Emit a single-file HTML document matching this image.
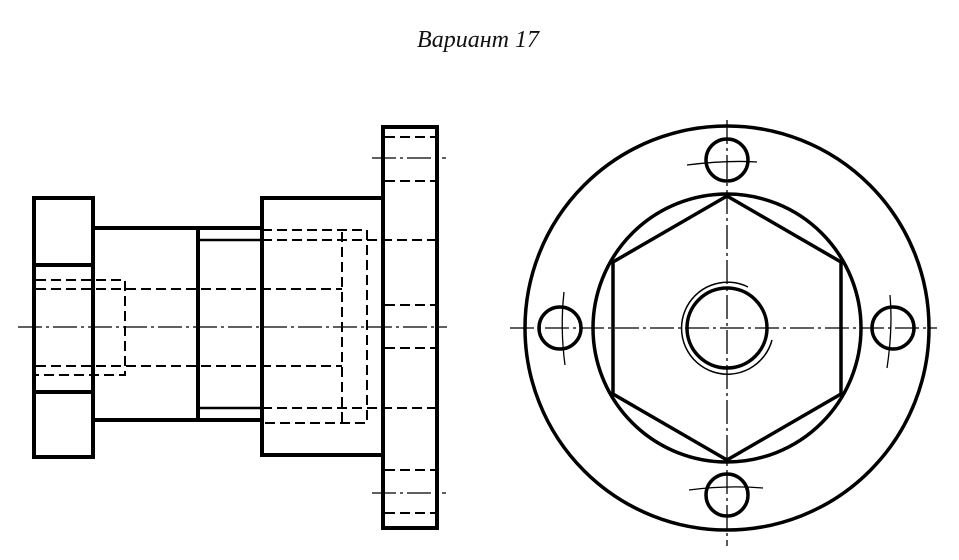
<!DOCTYPE html>
<html><head><meta charset="utf-8"><style>
html,body{margin:0;padding:0;background:#fff;}
svg{display:block}
</style></head><body>
<svg width="959" height="560" viewBox="0 0 959 560" xmlns="http://www.w3.org/2000/svg">
<text x="478" y="47" text-anchor="middle" font-family="Liberation Serif, serif" font-style="italic" font-size="24" fill="#111">Вариант 17</text>
<g stroke="#000" fill="none">
<!-- left view solid -->
<g stroke-width="4">
<rect x="34" y="198" width="59" height="259"/>
<line x1="34" y1="265" x2="93" y2="265"/>
<line x1="34" y1="392" x2="93" y2="392"/>
<line x1="93" y1="228" x2="262" y2="228"/>
<line x1="93" y1="420" x2="262" y2="420"/>
<line x1="198" y1="228" x2="198" y2="420"/>
<rect x="262" y="198" width="121" height="257"/>
<rect x="383" y="127" width="54" height="401"/>
</g>
<g stroke-width="2.5">
<line x1="198" y1="240" x2="262" y2="240"/>
<line x1="198" y1="408" x2="262" y2="408"/>
</g>
<g stroke-width="2" stroke-dasharray="10,5">
<polyline points="36,280 125,280 125,375 36,375"/>
<line x1="36" y1="289" x2="342" y2="289"/>
<line x1="36" y1="366" x2="342" y2="366"/>
<line x1="342" y1="232" x2="342" y2="423"/>
<polyline points="262,230 367,230 367,423 262,423"/>
<line x1="262" y1="240" x2="437" y2="240"/>
<line x1="262" y1="408" x2="437" y2="408"/>
<line x1="385" y1="137" x2="435" y2="137"/>
<line x1="385" y1="181" x2="435" y2="181"/>
<line x1="385" y1="305" x2="435" y2="305"/>
<line x1="385" y1="348" x2="435" y2="348"/>
<line x1="385" y1="470" x2="435" y2="470"/>
<line x1="385" y1="513" x2="435" y2="513"/>
</g>
<g stroke-width="1.3" stroke-dasharray="24,4,3,4">
<line x1="18" y1="327" x2="447" y2="327"/>
<line x1="372" y1="158" x2="446" y2="158"/>
<line x1="372" y1="493" x2="446" y2="493"/>
</g>
<!-- right view -->
<g stroke-width="3.5">
<circle cx="727" cy="328" r="202"/>
<circle cx="727" cy="328" r="134"/>
<polygon points="727,196 841,262 841,394 727,460 613,394 613,262"/>
<circle cx="727" cy="328" r="40"/>
<circle cx="727" cy="160" r="21"/>
<circle cx="727" cy="495" r="21"/>
<circle cx="560" cy="328" r="21"/>
<circle cx="893" cy="328" r="21"/>
</g>
<path d="M 772,340 A 46 46 0 1 1 748,287" stroke-width="1.5"/>
<g stroke-width="1.3" stroke-dasharray="24,4,3,4">
<line x1="510" y1="328" x2="937" y2="328"/>
<line x1="727" y1="120" x2="727" y2="546"/>
</g>
<g stroke-width="1.3">
<path d="M 687,165 Q 727,160 757,162"/>
<path d="M 689,490 Q 727,485 763,488"/>
<path d="M 564,292 Q 560,328 565,365"/>
<path d="M 890,295 Q 893,328 887,368"/>
</g>
</g>
</svg>
</body></html>
